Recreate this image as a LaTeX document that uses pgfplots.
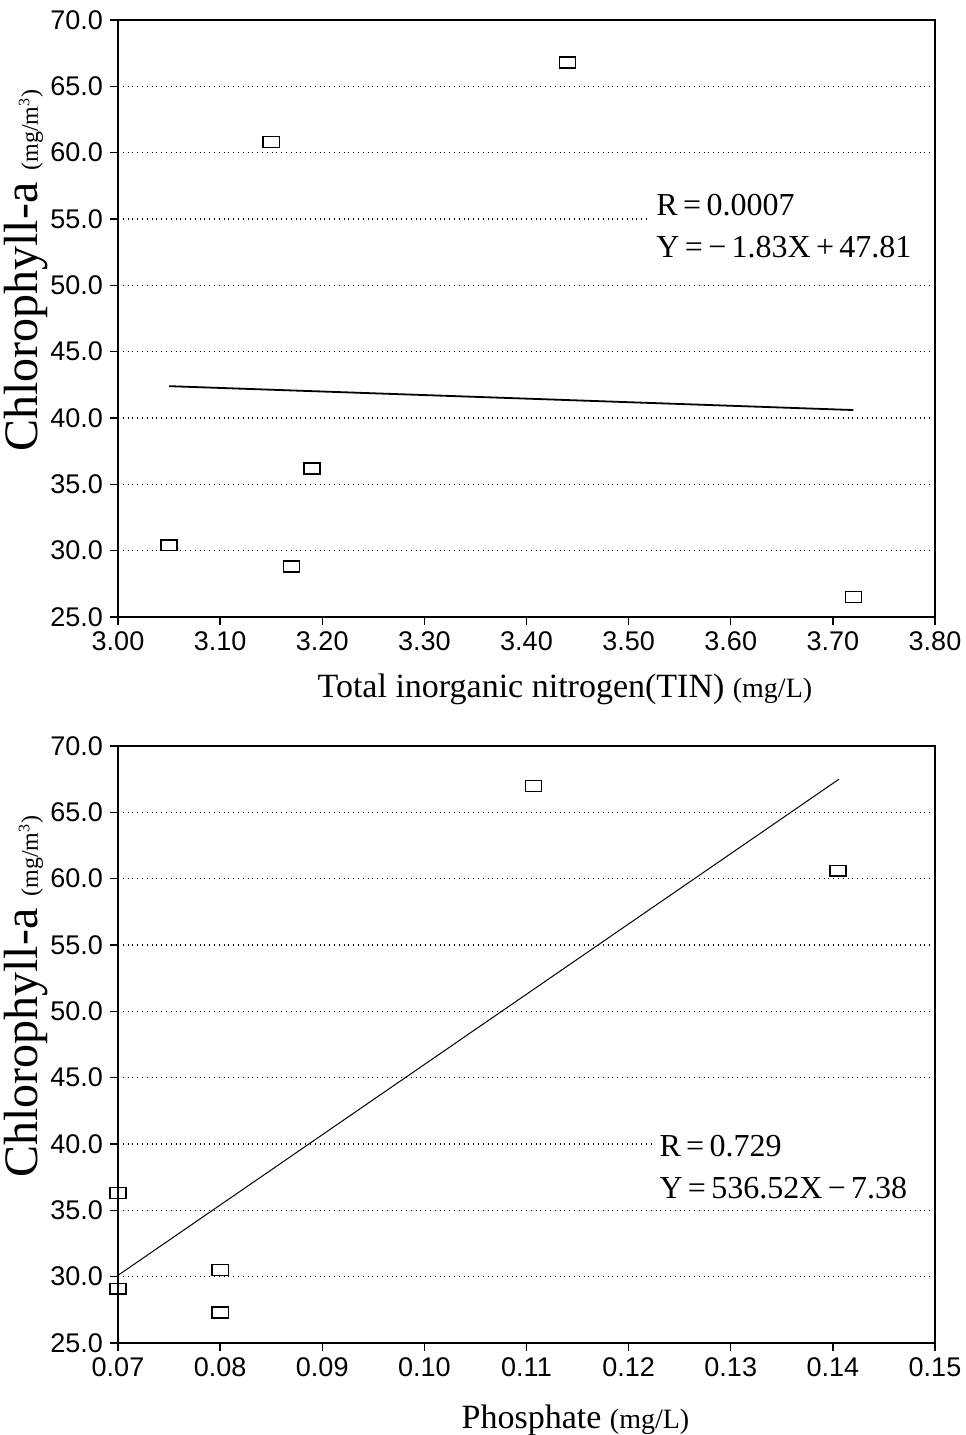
\documentclass[border=0pt]{standalone}
\usepackage{fontspec}
\setmainfont{Liberation Serif}
\newfontfamily\tickfont{Liberation Sans}
\usepackage{pgfplots}
\pgfplotsset{compat=1.18}

\pgfplotsset{
  chl/.style={
    scale only axis, width=408.5pt, height=298.5pt,
    ymin=25, ymax=70, ytick={25,30,35,40,45,50,55,60,65,70},
    ymajorgrids, grid style={dotted, line width=0.7pt, black},
    xtick pos=bottom, ytick pos=left,
    tick align=outside, major tick length=4pt,
    axis line style={line width=0.9pt},
    tick style={line width=0.7pt, black},
    tick label style={font=\tickfont\fontsize{13.5}{16}\selectfont},
    /pgf/number format/assume math mode=true,
    yticklabel style={/pgf/number format/fixed, /pgf/number format/fixed zerofill, /pgf/number format/precision=1},
    xticklabel style={/pgf/number format/fixed, /pgf/number format/fixed zerofill, /pgf/number format/precision=2},
    ylabel style={font=\fontsize{24}{26}\selectfont, at={(axis description cs:-0.112,0.58)}, anchor=center},
    xlabel style={font=\fontsize{17}{20}\selectfont, anchor=center},
    clip=false,
  },
  pts/.style={only marks, mark=square, mark size=2.7pt, black,
    mark options={xscale=1.5, line width=0.7pt}},
}
\tikzset{
  eq/.style={anchor=west, fill=white, align=left, inner sep=3pt,
    font=\fontsize{16}{21}\selectfont},
}

\begin{document}
\begin{tikzpicture}
% TIN
\begin{axis}[chl, at={(0,0)}, anchor=south west,
  xmin=3, xmax=3.8, xtick={3.0,3.1,3.2,3.3,3.4,3.5,3.6,3.7,3.8},
  ylabel={Chlorophyll-a {\fontsize{12}{14}\selectfont(mg/m\textsuperscript{3})}},
  xlabel={Total inorganic nitrogen(TIN) {\fontsize{14}{16}\selectfont(mg/L)}},
  xlabel style={at={(axis description cs:0.547,-0.122)}},
]
\addplot[pts] coordinates {
  (3.05,30.4) (3.15,60.8) (3.17,28.8) (3.19,36.2) (3.44,66.8) (3.72,26.5)
};
\addplot[black, line width=0.9pt] coordinates {(3.05,42.4) (3.72,40.6)};
\node[eq, text width=136pt] at (axis cs:3.521,54.48)
  {R\,=\,0.0007\\Y\,=\,−\,1.83X\,+\,47.81};
\end{axis}

% Phosphate
\begin{axis}[chl, at={(0,-363pt)}, anchor=south west,
  xmin=0.07, xmax=0.15, xtick={0.07,0.08,0.09,0.10,0.11,0.12,0.13,0.14,0.15},
  ylabel={Chlorophyll-a {\fontsize{12}{14}\selectfont(mg/m\textsuperscript{3})}},
  xlabel={Phosphate {\fontsize{14}{16}\selectfont(mg/L)}},
  xlabel style={at={(axis description cs:0.560,-0.129)}},
]
\addplot[pts] coordinates {
  (0.07,36.3) (0.07,29.1) (0.08,30.5) (0.08,27.3) (0.1107,67.0) (0.1405,60.6)
};
\addplot[black, line width=0.5pt] coordinates {(0.07,30.1) (0.1406,67.5)};
\node[eq, text width=133pt] at (axis cs:0.1224,38.25)
  {R\,=\,0.729\\Y\,=\,536.52X\,−\,7.38};
\end{axis}

\pgfresetboundingbox
\path (-59pt,-409pt) rectangle (423.5pt,308.5pt);
\end{tikzpicture}
\end{document}
